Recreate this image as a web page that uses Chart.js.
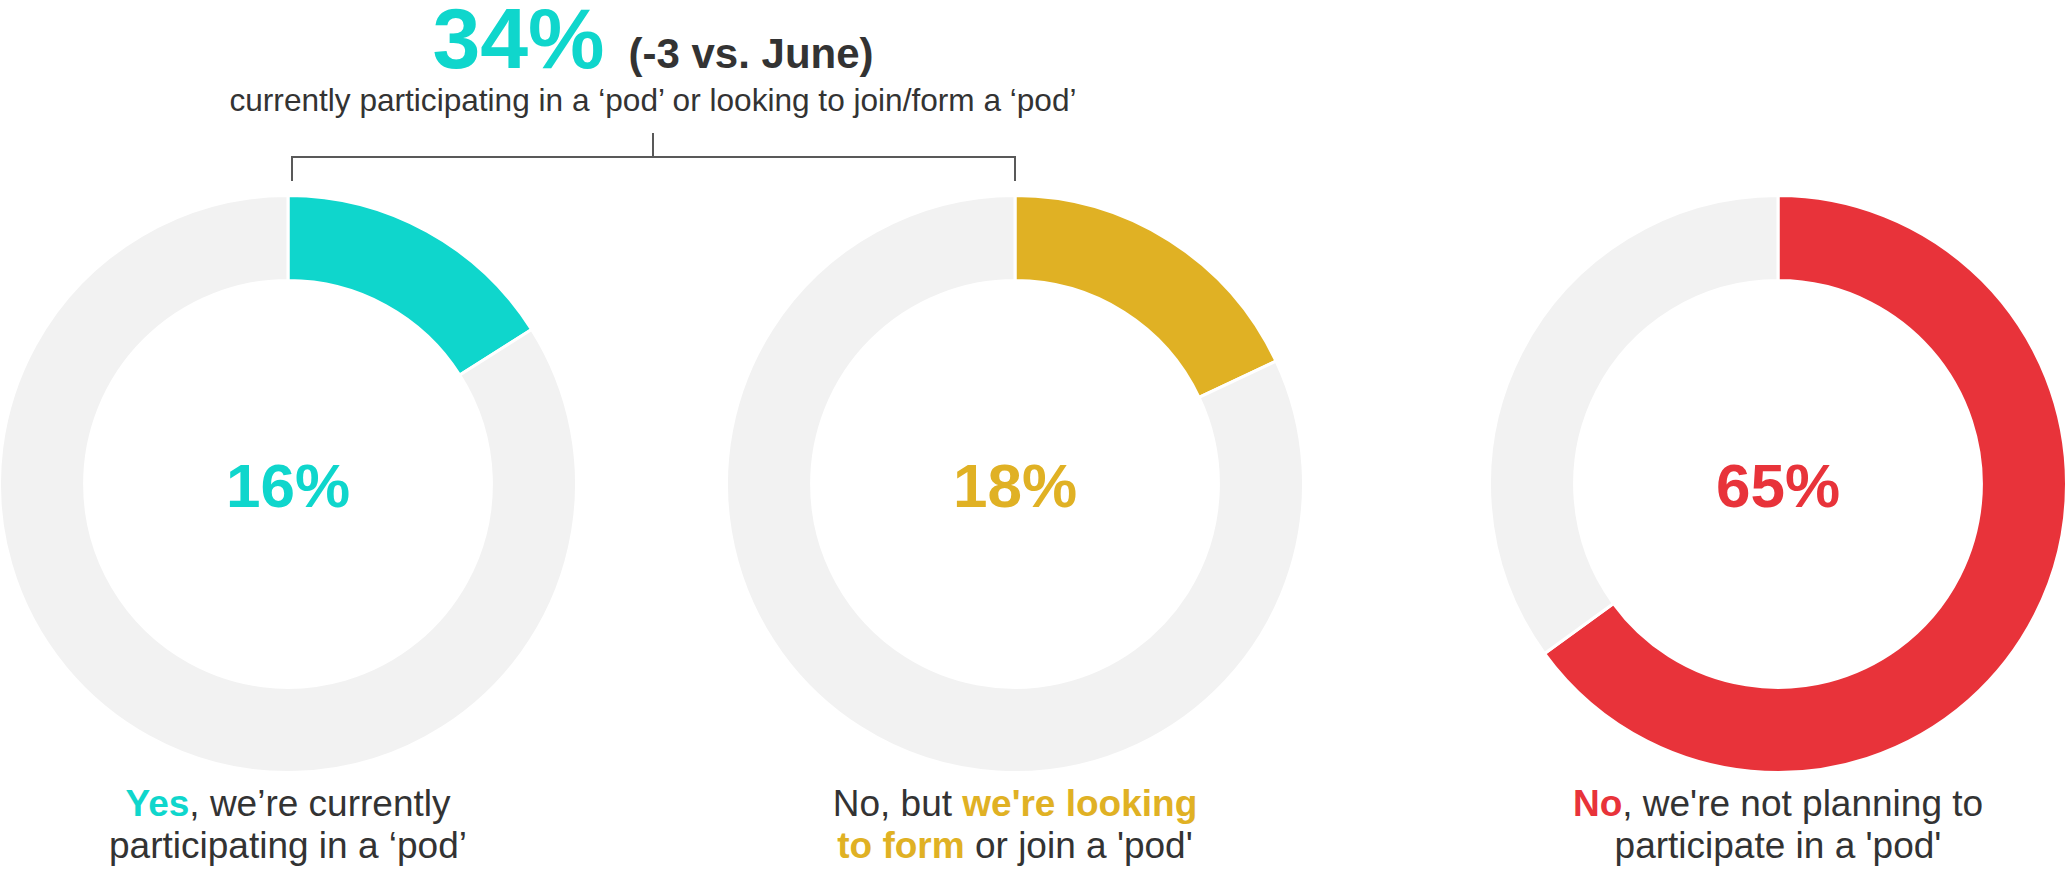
<!DOCTYPE html>
<html>
<head>
<meta charset="utf-8">
<script src="https://cdn.jsdelivr.net/npm/chart.js@4"></script>
<style>
	body { margin: 0; background: #fff; width: 2067px; height: 872px; position: relative; overflow: hidden;
		font-family: "Liberation Sans", Arial, sans-serif; color: #333; }
	.abs { position: absolute; }
	.title { left: 0; width: 1306px; top: -5px; text-align: center; font-size: 86px; line-height: 1; font-weight: bold; white-space: nowrap; }
	.title .small { font-size: 42px; color: #333; }
	.sub { left: 0; width: 1306px; top: 85px; text-align: center; font-size: 31.6px; line-height: 1; white-space: nowrap; }
	.line { background: #595959; }
	.center { width: 400px; text-align: center; font-size: 62px; line-height: 1; font-weight: bold; }
	.label { width: 560px; text-align: center; font-size: 37px; line-height: 42px; }
	.label b { font-weight: bold; }
	canvas { position: absolute; }
</style>
</head>
<body>
<div class="abs title"><span id="total"></span> <span class="small">(-3 vs. June)</span></div>
<div class="abs sub">currently participating in a ‘pod’ or looking to join/form a ‘pod’</div>
<div class="abs line" style="left:291px;top:156px;width:725px;height:2px"></div>
<div class="abs line" style="left:291px;top:156px;width:2px;height:25px"></div>
<div class="abs line" style="left:1014px;top:156px;width:2px;height:25px"></div>
<div class="abs line" style="left:652px;top:133px;width:2px;height:24px"></div>

<canvas id="myChart1" width="580" height="580"></canvas>
<canvas id="myChart2" width="580" height="580"></canvas>
<canvas id="myChart3" width="580" height="580"></canvas>

<div class="abs center" id="val1"></div>
<div class="abs center" id="val2"></div>
<div class="abs center" id="val3"></div>

<div class="abs label" id="lab1"><b style="color:#0fd6cc">Yes</b>, we’re currently<br>participating in a ‘pod’</div>
<div class="abs label" id="lab2">No, but <b style="color:#e0b124">we're looking<br>to form</b> or join a 'pod'</div>
<div class="abs label" id="lab3"><b style="color:#e8333a">No</b>, we're not planning to<br>participate in a 'pod'</div>

<script>
// 데이터
var categories = ["Yes, we're currently participating", "No, but looking to form or join", "No, not planning to participate"];
var values = [16, 18, 65];
var rest = [84, 82, 35];
var total = 34;
var colors = ['rgb(15, 214, 204)', 'rgb(224, 177, 36)', 'rgb(232, 51, 58)'];
var centerX = [288, 1015, 1778];
var centerY = 484;

document.getElementById("total").textContent = total + "%";
document.getElementById("total").style.color = colors[0];

for (let i = 0; i < 3; i++) {
	const cv = document.getElementById('myChart' + (i + 1));
	cv.style.left = (centerX[i] - 290) + 'px';
	cv.style.top = (centerY - 290) + 'px';

	const v = document.getElementById('val' + (i + 1));
	v.textContent = values[i] + '%';
	v.style.color = colors[i];
	v.style.left = (centerX[i] - 200) + 'px';
	v.style.top = '455px';

	const l = document.getElementById('lab' + (i + 1));
	l.style.left = (centerX[i] - 280) + 'px';
	l.style.top = '783px';

	new Chart(cv.getContext('2d'), {
		type: 'doughnut',
		data: {
			labels: [categories[i], 'Other'],
			datasets: [{
				data: [values[i], rest[i]],
				backgroundColor: [colors[i], 'rgb(242, 242, 242)'],
				borderColor: '#ffffff',
				borderWidth: 3,
				hoverOffset: 0
			}]
		},
		options: {
			responsive: false,
			animation: false,
			cutout: '70.5%',
			plugins: {
				legend: { display: false },
				tooltip: { enabled: false }
			}
		}
	});
}
</script>
</body>
</html>
